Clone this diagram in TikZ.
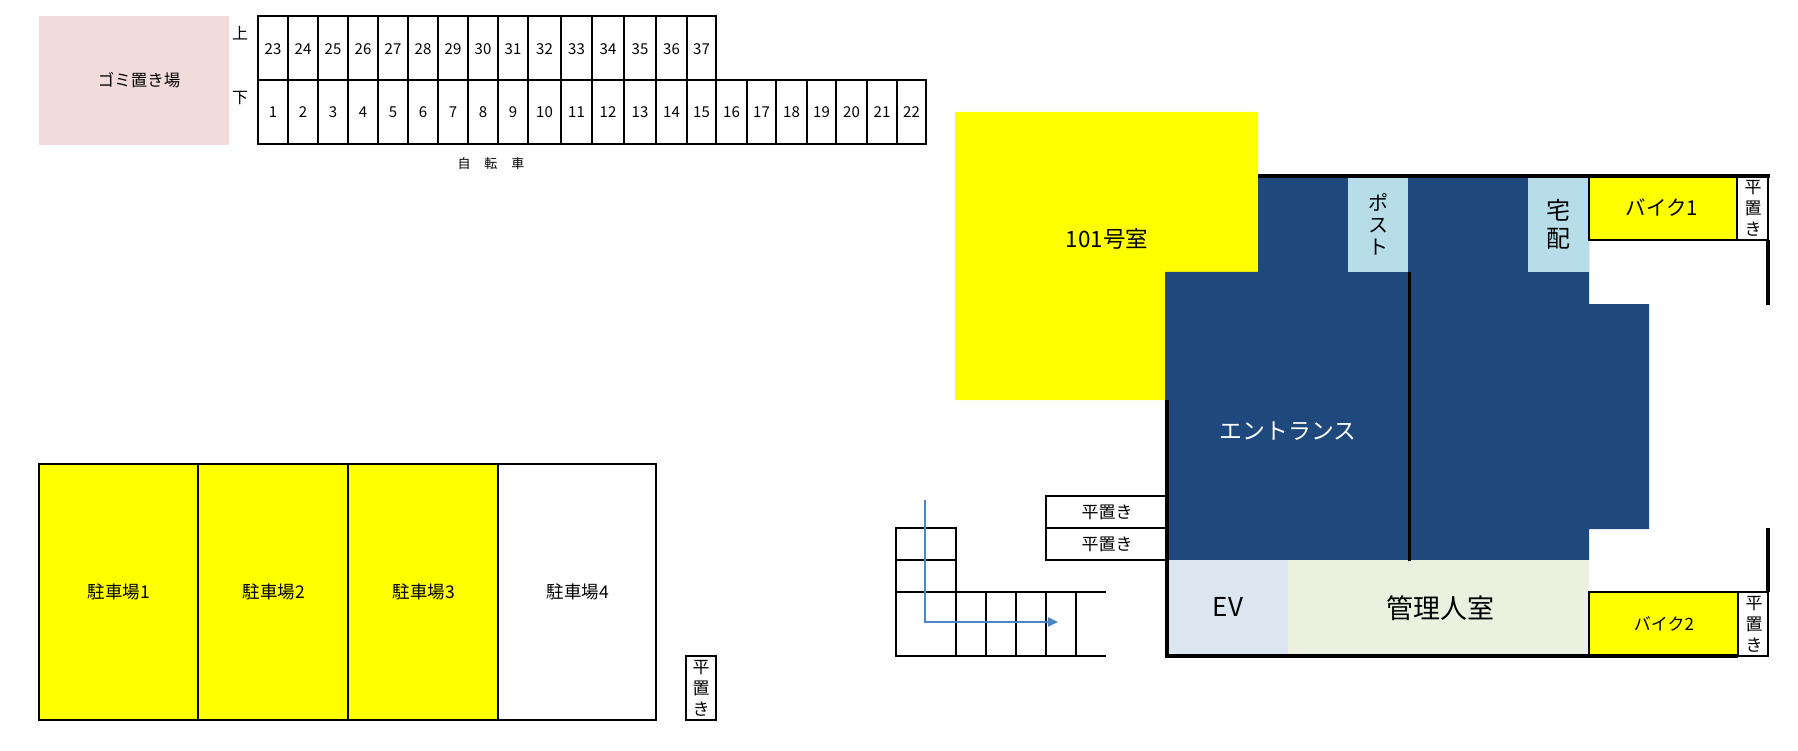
\documentclass[tikz,border=0pt]{standalone}
\usepackage{fontspec}
\setmainfont{Noto Sans CJK JP}
\usetikzlibrary{arrows.meta}

\definecolor{slotfill}{RGB}{255,255,0}
\definecolor{hall}{HTML}{1F497D}
\definecolor{postbox}{HTML}{B7DDE8}
\definecolor{lift}{HTML}{DCE6F1}
\definecolor{office}{HTML}{EBF1DE}
\definecolor{trash}{HTML}{F2DCDB}
\definecolor{route}{HTML}{4A86C5}

\begin{document}
\begin{tikzpicture}[x=1pt,y=-1pt,>={Triangle[length=10pt,width=9pt]},
    txt/.style={inner sep=0pt,align=center,font=\fontsize{#1}{#1}\selectfont},
    tall/.style={inner sep=0pt,align=center,font=\fontsize{#1}{21}\selectfont},
    numtxt/.style={txt=15,text height=11pt,text depth=0pt},
    thin line/.style={draw=black,line width=1.8pt},
    wall/.style={draw=black,line width=3.6pt},
    slot/.style={fill=slotfill,thin line}]
  \useasboundingbox (0,0) rectangle (1798,751);

  % bicycle racks
  \fill[trash] (39,16) rectangle (229,145);
  \node[txt=16.5] (trash) at (139,80) {ゴミ置き場};
  \node[txt=16] (upper) at (240,33) {上};
  \node[txt=16] (lower) at (240,98) {下};
  \foreach \num/\xa/\xb in {1/258/288,2/288/318,3/318/348,4/348/378,5/378/408,6/408/438,
      7/438/468,8/468/498,9/498/528,10/528/561,11/561/592,12/592/624,13/624/656,14/656/687,
      15/687/716,16/716/747,17/747/776,18/776/807,19/807/836,20/836/867,21/867/897,22/897/926} {
    \draw[thin line] (\xa,80) rectangle (\xb,144);
    \node[numtxt] (bike\num) at ({(\xa+\xb)/2},112) {\num};
    \ifnum\num<16
      \pgfmathtruncatemacro{\up}{\num+22}
      \draw[thin line] (\xa,16) rectangle (\xb,80);
      \node[numtxt] (bike\up) at ({(\xa+\xb)/2},49) {\up};
    \fi
  }
  \node[txt=13] (bikes) at (491,164) {自\hspace{14pt}転\hspace{14pt}車};

  % parking
  \draw[slot] (39,464) rectangle (198,720);
  \draw[slot] (198,464) rectangle (348,720);
  \draw[slot] (348,464) rectangle (498,720);
  \draw[thin line] (498,464) rectangle (656,720);
  \node[txt=17.5] (car1) at (119,592) {駐車場1};
  \node[txt=17.5] (car2) at (274,592) {駐車場2};
  \node[txt=17.5] (car3) at (424,592) {駐車場3};
  \node[txt=17.5] (car4) at (578,592) {駐車場4};
  \draw[thin line] (686,656) rectangle (716,720);
  \node[tall=17] (flat1) at (701,688) {平\\置\\き};

  % building
  \fill[slotfill] (955,112) -- (1258,112) -- (1258,272) -- (1165,272) -- (1165,400) -- (955,400) -- cycle;
  \fill[hall] (1258,176) -- (1589,176) -- (1589,304) -- (1649,304) -- (1649,529) -- (1589,529)
    -- (1589,560) -- (1165,560) -- (1165,272) -- (1258,272) -- cycle;
  \fill[postbox] (1348,176) rectangle (1408,272);
  \fill[postbox] (1528,176) rectangle (1589,272);
  \fill[lift] (1166,560) rectangle (1288,656);
  \fill[office] (1288,560) rectangle (1589,656);
  \draw[slot] (1589,176) rectangle (1737,240);
  \draw[thin line] (1737,176) rectangle (1768,240);
  \draw[slot] (1589,592) rectangle (1738,656);
  \draw[thin line] (1738,592) rectangle (1768,656);
  \draw[thin line] (1046,496) rectangle (1166,528);
  \draw[thin line] (1046,528) rectangle (1166,560);

  \node[txt=22.5] (room) at (1107,239) {101号室};
  \node[txt=22.8,text=white] (entrance) at (1288,431) {エントランス};
  \node[inner sep=0pt,align=center,font=\fontsize{20}{22}\selectfont] (post) at (1378,224) {ポ\\ス\\ト};
  \node[inner sep=0pt,align=center,font=\fontsize{24}{28}\selectfont] (parcel) at (1558,224) {宅\\配};
  \node[txt=20.5] (moto1) at (1662,208) {バイク1};
  \node[tall=17] (flat2) at (1753,208) {平\\置\\き};
  \node[txt=26] (ev) at (1228,607) {EV};
  \node[txt=27] (manager) at (1440,608) {管理人室};
  \node[txt=17] (moto2) at (1664,624) {バイク2};
  \node[tall=17] (flat3) at (1754,624) {平\\置\\き};
  \node[txt=17] (flat4) at (1107,512) {平置き};
  \node[txt=17] (flat5) at (1107,544) {平置き};

  % walls
  \draw[wall] (1258,176) -- (1770,176);
  \draw[wall] (1167,400) -- (1167,656) -- (1738,656);
  \draw[wall,line width=3pt] (1409,272) -- (1409,561);
  \draw[wall] (1768,240) -- (1768,305);
  \draw[wall] (1768,528) -- (1768,592);

  % stairs
  \draw[thin line] (896,528) rectangle (956,592);
  \draw[thin line] (896,560) -- (956,560);
  \draw[thin line] (1106,592) -- (896,592) -- (896,656) -- (1106,656);
  \foreach \xs in {956,986,1016,1046,1076}
    \draw[thin line] (\xs,592) -- (\xs,656);

  \coordinate (routestart) at (925,500);
  \coordinate (routeend) at (1058,622);
  \draw[->,route,line width=2pt] (routestart) |- (routeend);
\end{tikzpicture}
\end{document}
